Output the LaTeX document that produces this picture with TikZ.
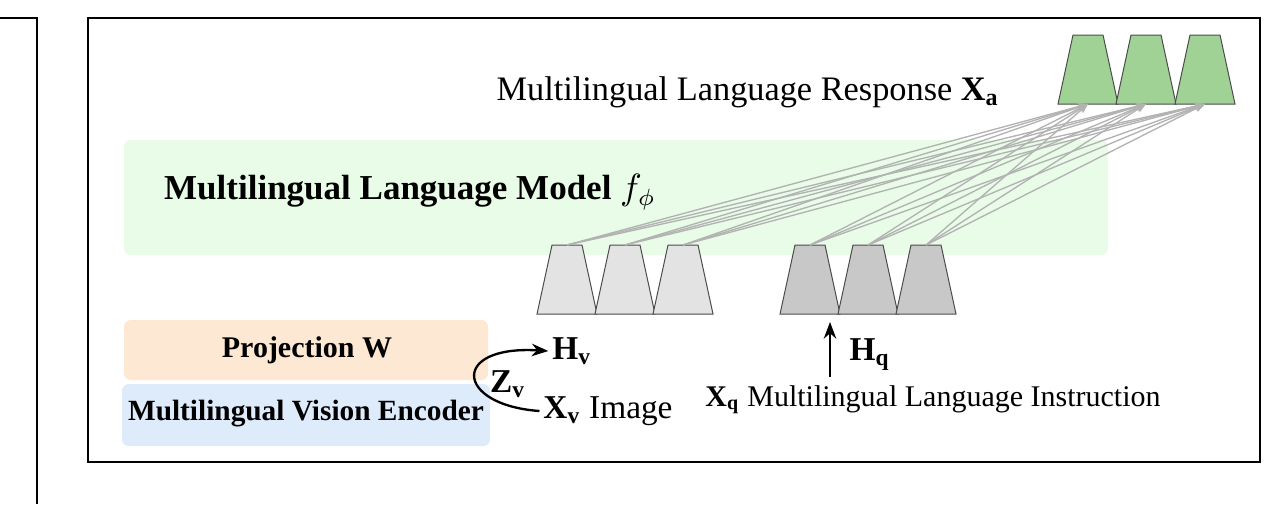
\documentclass[tikz,border=0pt]{standalone}
\usepackage{fontspec}
\setmainfont{Liberation Serif}
\usetikzlibrary{arrows.meta}
\definecolor{mgreen}{HTML}{E8FCE8}
\definecolor{morange}{HTML}{FDE9D3}
\definecolor{mblue}{HTML}{DDEBFB}
\definecolor{tokgreen}{HTML}{A0D195}
\definecolor{toklight}{HTML}{E3E3E3}
\definecolor{tokdark}{HTML}{C8C8C8}
\begin{document}
\begin{tikzpicture}[%
  x = 0.3pt, y = -0.3pt,
  token/.style = {draw = black!70, line width = 0.3pt},
  panel/.style = {rounded corners = 2pt, draw = none},
  label/.style = {font = \fontsize{10}{12}\selectfont, inner sep = 1pt},
  link/.style = {-{Stealth[length = 3pt]}, draw = black!30, line width = 0.4pt}]
  \useasboundingbox (0, 0) rectangle (1287, 504);
  \draw (0, 18) -- (37, 18) -- (37, 504);
  \draw[line width = 0.8pt] (88, 18) rectangle (1260, 462);

  \fill[panel, mgreen] (124, 140) rectangle (1108, 255);
  \fill[panel, morange] (124, 320) rectangle (488, 380);
  \fill[panel, mblue] (122, 384) rectangle (490, 446);

  \node[label, font = \fontsize{10.5}{13}\selectfont\bfseries] (lm) at (410, 192) {Multilingual Language Model $f_\phi$};
  \node[label, font = \fontsize{9}{11}\selectfont\bfseries] (proj) at (307, 350) {Projection W};
  \node[label, font = \fontsize{8.8}{11}\selectfont\bfseries] (enc) at (306, 414) {Multilingual Vision Encoder};
  \node[label, font = \fontsize{10.3}{13}\selectfont] (resp) at (748, 92) {Multilingual Language Response $\mathbf{X}_\mathbf{a}$};

  % tokens: top and bottom of each trapezoid
  \foreach \i/\x in {1/567, 2/625, 3/683} {
    \fill[token, fill = toklight] (\x-15, 245) -- (\x+15, 245) -- (\x+30, 314) -- (\x-30, 314) -- cycle;
    \coordinate (v\i) at (\x, 245);
  }
  \foreach \i/\x in {1/810, 2/868, 3/926} {
    \fill[token, fill = tokdark] (\x-15, 245) -- (\x+15, 245) -- (\x+30, 314) -- (\x-30, 314) -- cycle;
    \coordinate (q\i) at (\x, 245);
  }
  \foreach \i/\x in {1/1088, 2/1146, 3/1205} {
    \fill[token, fill = tokgreen] (\x-15, 35) -- (\x+15, 35) -- (\x+30, 104) -- (\x-30, 104) -- cycle;
    \coordinate (a\i) at (\x, 104);
  }

  \foreach \s in {v1, v2, v3, q1, q2, q3}
    \foreach \t in {a1, a2, a3}
      \draw[link] (\s) -- (\t);

  \node[label] (hv) at (572, 351) {$\mathbf{H}_\mathbf{v}$};
  \node[label] (zv) at (508, 384) {$\mathbf{Z}_\mathbf{v}$};
  \node[label] (xv) at (608, 411) {$\mathbf{X}_\mathbf{v}$ Image};
  \draw[-{Stealth[length = 5pt]}, line width = 0.7pt] (xv.west) .. controls (455, 405) and (450, 345) .. (hv.west);

  \node[label] (hq) at (870, 355) {$\mathbf{H}_\mathbf{q}$};
  \node[label, font = \fontsize{9}{11}\selectfont] (xq) at (933, 400) {$\mathbf{X}_\mathbf{q}$ Multilingual Language Instruction};
  \coordinate (qin) at (830, 377);
  \coordinate (qout) at (830, 322);
  \draw[-{Stealth[length = 5pt]}, line width = 0.7pt] (qin) -- (qout);
\end{tikzpicture}
\end{document}
